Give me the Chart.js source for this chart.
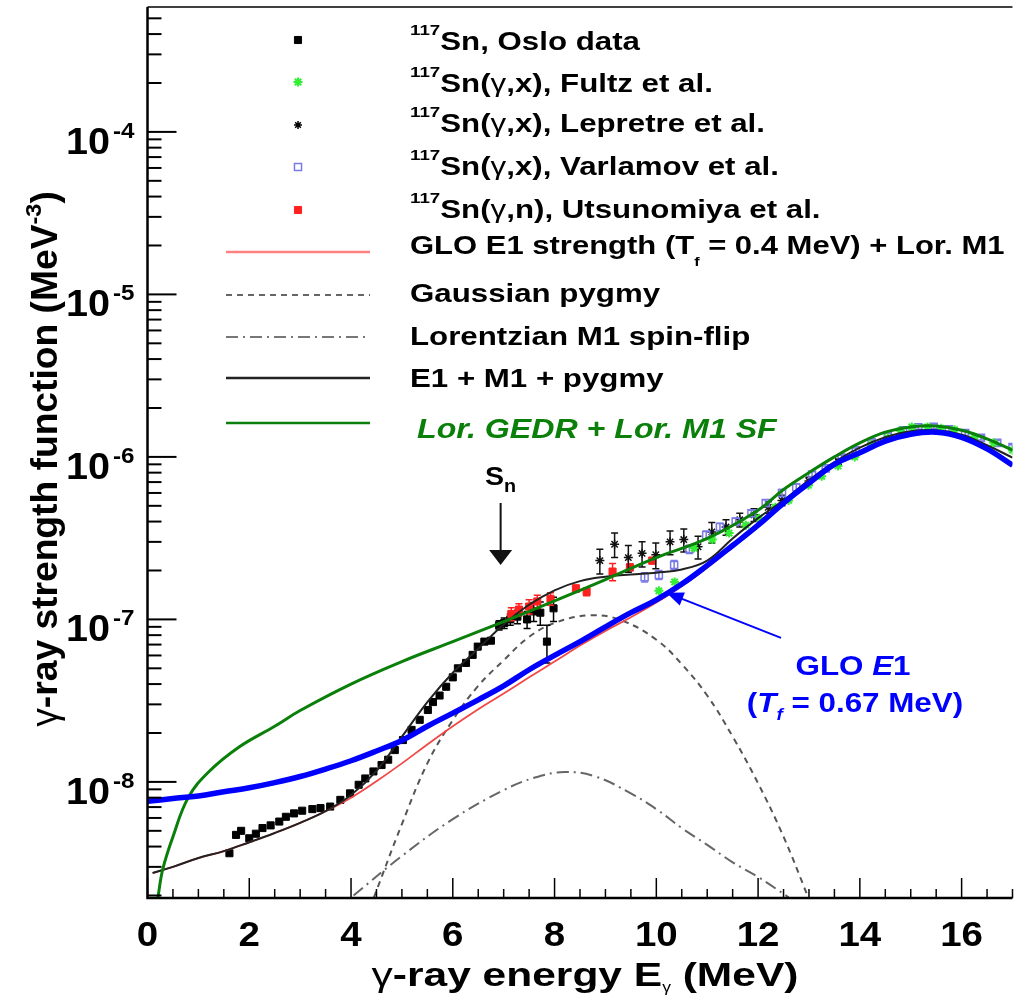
<!DOCTYPE html>
<html>
<head>
<meta charset="utf-8">
<script src="https://cdn.jsdelivr.net/npm/chart.js@4.4.0/dist/chart.umd.min.js"></script>
<style>
  html, body { margin: 0; padding: 0; background: #fff; }
  #wrap { width: 1019px; height: 998px; }
</style>
</head>
<body>
<div id="wrap"><canvas id="gsf" width="1019" height="998"></canvas></div>
<script>
// gamma-ray strength function of 117Sn, energies in MeV, strengths in MeV^-3

// Oslo data
const osloE = [1.61, 1.74, 1.84, 2.0, 2.13, 2.26, 2.42, 2.59, 2.72, 2.88,
  3.04, 3.24, 3.4, 3.59, 3.79, 3.98, 4.15, 4.28, 4.44, 4.6,
  4.73, 4.86, 5.02, 5.19, 5.35, 5.51, 5.61, 5.74, 5.87, 6.0,
  6.1, 6.26, 6.39, 6.49, 6.62, 6.75, 6.91, 7.01, 7.13, 7.27,
  7.46, 7.59, 7.72, 7.85, 7.98];
const osloS = [3.64e-9, 4.72e-9, 5.0e-9, 4.5e-9, 4.8e-9, 5.2e-9, 5.4e-9, 5.7e-9, 6.1e-9, 6.4e-9,
  6.65e-9, 6.8e-9, 6.9e-9, 7.05e-9, 7.75e-9, 8.5e-9, 9.6e-9, 1.05e-8, 1.16e-8, 1.27e-8,
  1.37e-8, 1.57e-8, 1.81e-8, 2.09e-8, 2.41e-8, 2.77e-8, 3.1e-8, 3.4e-8, 3.85e-8, 4.4e-8,
  5.0e-8, 5.4e-8, 6.05e-8, 6.8e-8, 7.3e-8, 7.4e-8, 9.2e-8, 9.5e-8, 1.0e-7, 1.04e-7,
  1.0e-7, 1.12e-7, 1.1e-7, 7.3e-8, 1.17e-7];
const osloErr = [0, 0, 0, 0, 0, 0, 0, 0, 0, 0,
  0, 0, 0, 0, 0, 0, 0, 0, 0, 0,
  0, 0, 0, 0, 0, 0, 0, 0, 0, 0,
  0, 0, 0, 0, 0, 0, 0.6e-8, 0.7e-8, 0.8e-8, 1.0e-8,
  1.2e-8, 1.5e-8, 1.8e-8, 1.9e-8, 2.0e-8];

// (gamma,x) Fultz et al.
const fultzE = [10.05, 10.36, 10.74, 11.1, 11.43, 11.76, 12.02, 12.34, 12.6, 12.99,
  13.25, 13.57, 13.9, 14.23, 14.55, 14.8, 15.02, 15.33, 15.6, 15.86, 16.25, 16.63, 17.0];
const fultzS = [1.5e-7, 1.7e-7, 2.75e-7, 3.1e-7, 3.4e-7, 3.8e-7, 4.2e-7, 4.9e-7, 5.4e-7, 6.7e-7,
  7.6e-7, 8.8e-7, 1.0e-6, 1.19e-6, 1.31e-6, 1.45e-6, 1.53e-6, 1.53e-6, 1.5e-6, 1.47e-6, 1.33e-6, 1.22e-6, 1.1e-6];

// (gamma,x) Lepretre et al.
const lepE = [8.89, 9.18, 9.45, 9.72, 9.99, 10.27, 10.54, 10.82, 11.09, 11.37, 11.64, 11.92, 12.2, 12.47, 13.0, 13.58];
const lepS = [2.3e-7, 2.9e-7, 2.4e-7, 2.55e-7, 2.5e-7, 3.0e-7, 3.1e-7, 2.8e-7, 3.45e-7, 3.7e-7, 4.1e-7, 4.4e-7, 4.9e-7, 5.4e-7, 7.1e-7, 9.3e-7];
const lepErr = [4.0e-8, 5.0e-8, 4.5e-8, 4.5e-8, 4.5e-8, 5.0e-8, 5.0e-8, 4.5e-8, 5.0e-8, 4.0e-8, 4.0e-8, 4.0e-8, 4.0e-8, 4.0e-8, 4.0e-8, 4.0e-8];

// (gamma,x) Varlamov et al.
const varE = [9.77, 10.05, 10.35, 10.65, 10.98, 11.25, 11.56, 11.87, 12.15, 12.47, 12.75, 13.06,
  13.33, 13.64, 13.92, 14.23, 14.55, 14.85, 15.15, 15.45, 15.75, 16.07, 16.38, 16.7, 17.0];
const varS = [1.82e-7, 1.88e-7, 2.16e-7, 2.7e-7, 3.3e-7, 3.7e-7, 4.0e-7, 4.5e-7, 5.2e-7, 6.0e-7, 6.5e-7, 7.8e-7,
  8.5e-7, 9.9e-7, 1.1e-6, 1.23e-6, 1.36e-6, 1.46e-6, 1.52e-6, 1.53e-6, 1.48e-6, 1.4e-6, 1.31e-6, 1.22e-6, 1.15e-6];
const varErr = [1.2e-8, 1.2e-8, 1.4e-8, 1.6e-8, 2.0e-8, 2.0e-8, 2.0e-8, 2.0e-8, 2.5e-8, 3.0e-8, 3.0e-8, 3.0e-8,
  3.0e-8, 3.5e-8, 3.5e-8, 4.0e-8, 4.0e-8, 4.0e-8, 4.0e-8, 4.0e-8, 4.0e-8, 4.0e-8, 4.0e-8, 4.0e-8, 4.0e-8];

// (gamma,n) Utsunomiya et al.
const utsE = [7.15, 7.3, 7.5, 7.66, 7.92, 8.42, 8.63, 9.14, 9.48, 9.92];
const utsS = [1.08e-7, 1.15e-7, 1.2e-7, 1.29e-7, 1.34e-7, 1.55e-7, 1.48e-7, 1.97e-7, 2.09e-7, 2.3e-7];
const utsErr = [1.0e-8, 1.0e-8, 1.2e-8, 1.2e-8, 1.2e-8, 0.8e-8, 0.8e-8, 2.4e-8, 1.0e-8, 1.0e-8];

// model curves
const fitE = [0.1, 0.5, 1, 1.5, 2, 2.5, 3, 3.5, 4, 4.5, 5, 5.5, 6, 6.5, 7, 7.5, 8, 8.5, 9, 9.5,
  10, 10.5, 11, 11.5, 12, 12.5, 13, 13.5, 14, 14.5, 15, 15.5, 16, 16.5, 17];
const gloM1S = [2.75e-9, 3.0e-9, 3.4e-9, 3.75e-9, 4.25e-9, 4.85e-9, 5.6e-9, 6.6e-9, 8.0e-9, 1.01e-8,
  1.3e-8, 1.7e-8, 2.2e-8, 2.8e-8, 3.5e-8, 4.4e-8, 5.5e-8, 6.9e-8, 8.5e-8, 1.03e-7,
  1.27e-7, 1.6e-7, 2.08e-7, 2.78e-7, 3.72e-7, 5.1e-7, 6.8e-7, 8.8e-7, 1.05e-6, 1.24e-6,
  1.37e-6, 1.41e-6, 1.31e-6, 1.11e-6, 8.8e-7];
const totalS = [2.75e-9, 3.0e-9, 3.4e-9, 3.75e-9, 4.25e-9, 4.85e-9, 5.6e-9, 6.6e-9, 8.3e-9, 1.17e-8,
  1.9e-8, 3.1e-8, 4.7e-8, 6.6e-8, 9.3e-8, 1.23e-7, 1.51e-7, 1.72e-7, 1.83e-7, 1.89e-7,
  1.94e-7, 2.03e-7, 2.3e-7, 3.15e-7, 4.2e-7, 5.4e-7, 7.2e-7, 9.3e-7, 1.14e-6, 1.32e-6,
  1.44e-6, 1.46e-6, 1.37e-6, 1.18e-6, 9.9e-7];

const gloE = [0, 0.5, 1, 1.5, 2, 2.5, 3, 3.5, 4, 4.5, 5, 5.5, 6, 6.5, 7, 7.5, 8, 8.5, 9, 9.5,
  10, 10.5, 11, 11.5, 12, 12.5, 13, 13.5, 14, 14.5, 15, 15.5, 16, 16.5, 17];
const gloS = [7.6e-9, 7.9e-9, 8.2e-9, 8.7e-9, 9.2e-9, 9.9e-9, 1.08e-8, 1.2e-8, 1.35e-8, 1.55e-8,
  1.8e-8, 2.2e-8, 2.65e-8, 3.2e-8, 3.9e-8, 4.9e-8, 6.0e-8, 7.3e-8, 9.0e-8, 1.1e-7,
  1.32e-7, 1.65e-7, 2.15e-7, 2.85e-7, 3.8e-7, 5.2e-7, 6.9e-7, 9.0e-7, 1.06e-6, 1.25e-6,
  1.38e-6, 1.42e-6, 1.32e-6, 1.12e-6, 8.9e-7];

const lorE = [0.2, 0.3, 0.5, 0.8, 1.2, 1.8, 2.5, 3, 4, 5, 6, 7, 8, 9, 10, 11, 12, 12.5, 13, 13.5,
  14, 14.5, 15, 15.5, 16, 16.5, 17];
const lorS = [1.9e-9, 2.9e-9, 4.6e-9, 8.0e-9, 1.15e-8, 1.64e-8, 2.2e-8, 2.75e-8, 4.0e-8, 5.5e-8,
  7.3e-8, 9.7e-8, 1.3e-7, 1.76e-7, 2.4e-7, 3.15e-7, 4.7e-7, 6.3e-7, 8.0e-7, 1.0e-6,
  1.22e-6, 1.42e-6, 1.53e-6, 1.55e-6, 1.46e-6, 1.29e-6, 1.1e-6];

const pygmyE = [4.45, 5, 5.5, 6, 6.5, 7, 7.5, 8, 8.7, 9.3, 10, 10.5, 11, 11.5, 12, 12.5, 13];
const pygmyS = [1.95e-9, 5.5e-9, 1.3e-8, 2.4e-8, 3.9e-8, 5.6e-8, 7.8e-8, 9.5e-8, 1.06e-7, 9.9e-8,
  7.5e-8, 5.3e-8, 3.4e-8, 1.9e-8, 9.8e-9, 4.6e-9, 1.9e-9];

const sfE = [4.05, 5, 6, 7, 7.6, 8.2, 8.8, 9.5, 10, 10.5, 11, 11.5, 12, 12.6];
const sfS = [2.0e-9, 3.5e-9, 5.9e-9, 8.9e-9, 1.06e-8, 1.15e-8, 1.08e-8, 8.5e-9, 6.8e-9, 5.2e-9,
  4.1e-9, 3.2e-9, 2.6e-9, 1.95e-9];

// axis ticks
const xTickLabels = [0, 2, 4, 6, 8, 10, 12, 14, 16];
const yDecades = [-8, -7, -6, -5, -4];

const sn = 6.94; // neutron separation energy

const reactions = ['', '(\u03b3,x)', '(\u03b3,x)', '(\u03b3,x)', '(\u03b3,n)'];
const sources = [', Oslo data', ', Fultz et al.', ', Lepretre et al.', ', Varlamov et al.', ', Utsunomiya et al.'];

const FONT = '"Liberation Sans", Arial, Helvetica, sans-serif';
const RED = '#f04848', GREEN = '#0a800a', BLUE = '#0000ff';

const pts = (xs, ys) => xs.map((x, i) => ({ x: x, y: ys[i] }));

function font(r) {
  return (r.italic ? 'italic ' : '') + (r.light ? '' : 'bold ') + r.size + 'px ' + FONT;
}

// draws a row of text pieces (super/subscripts) with a horizontal stretch
function drawRuns(ctx, runs, x, y, opt) {
  opt = opt || {};
  const sx = opt.sx || 1;
  let w = 0;
  runs.forEach(r => { ctx.font = font(r); w += ctx.measureText(r.t).width; });
  let cx = x;
  if (opt.align === 'center') cx = x - w * sx / 2;
  if (opt.align === 'right') cx = x - w * sx;
  ctx.textAlign = 'left';
  ctx.textBaseline = 'alphabetic';
  runs.forEach(r => {
    ctx.font = font(r);
    ctx.fillStyle = r.color || opt.color || '#000';
    ctx.save();
    ctx.translate(cx, y + (r.dy || 0));
    ctx.scale(sx, 1);
    ctx.fillText(r.t, 0, 0);
    ctx.restore();
    cx += ctx.measureText(r.t).width * sx;
  });
}

// splits a label so that gamma is set in a lighter face
function withGamma(text, size) {
  const out = [];
  text.split('\u03b3').forEach((part, i) => {
    if (i > 0) out.push({ t: '\u03b3', size: size, light: true });
    if (part) out.push({ t: part, size: size });
  });
  return out;
}

function marker(ctx, style, x, y, r, fill, stroke, bw) {
  ctx.save();
  ctx.fillStyle = fill;
  ctx.strokeStyle = stroke;
  ctx.lineWidth = bw;
  Chart.helpers.drawPoint(ctx, { pointStyle: style, radius: r, rotation: 0, borderWidth: bw }, x, y);
  ctx.restore();
}

const errorBars = {
  id: 'errorBars',
  beforeDatasetDraw(chart, args) {
    const ds = chart.data.datasets[args.index];
    if (!ds.errors) return;
    const { ctx, chartArea: a, scales: { x, y } } = chart;
    ctx.save();
    ctx.beginPath();
    ctx.rect(a.left, a.top, a.right - a.left, a.bottom - a.top);
    ctx.clip();
    ctx.strokeStyle = ds.errorColor;
    ctx.lineWidth = 1.5;
    ds.data.forEach((p, i) => {
      const e = ds.errors[i];
      if (!e) return;
      const px = x.getPixelForValue(p.x);
      const t = y.getPixelForValue(p.y + e);
      const b = y.getPixelForValue(p.y - e);
      ctx.beginPath();
      ctx.moveTo(px, t); ctx.lineTo(px, b);
      ctx.moveTo(px - 3.5, t); ctx.lineTo(px + 3.5, t);
      ctx.moveTo(px - 3.5, b); ctx.lineTo(px + 3.5, b);
      ctx.stroke();
    });
    ctx.restore();
  }
};

const decorations = {
  id: 'decorations',
  afterDraw(chart) {
    const { ctx, chartArea: a, scales: { x, y } } = chart;
    ctx.save();

    // frame
    ctx.strokeStyle = '#000';
    ctx.lineWidth = 1.5;
    ctx.beginPath();
    ctx.moveTo(a.left, a.top); ctx.lineTo(a.right, a.top);
    ctx.stroke();
    ctx.lineWidth = 2.5;
    ctx.beginPath();
    ctx.moveTo(a.left, a.top); ctx.lineTo(a.left, a.bottom); ctx.lineTo(a.right, a.bottom);
    ctx.stroke();

    // x ticks every 0.5 MeV, long ones every 2 MeV
    ctx.lineWidth = 1.5;
    for (let i = 0; i <= 34; i++) {
      const px = x.getPixelForValue(i / 2);
      const len = (i % 4 === 0) ? 20 : 9;
      ctx.beginPath(); ctx.moveTo(px, a.bottom); ctx.lineTo(px, a.bottom - len); ctx.stroke();
    }
    // log y ticks
    ctx.lineWidth = 2;
    for (let d = -9; d <= -4; d++) {
      for (let m = 1; m <= 9; m++) {
        const v = m * Math.pow(10, d);
        if (v < y.min || v > y.max) continue;
        const py = y.getPixelForValue(v);
        const len = m === 1 ? 29 : 14;
        ctx.beginPath(); ctx.moveTo(a.left, py); ctx.lineTo(a.left + len, py); ctx.stroke();
      }
    }

    // tick labels
    xTickLabels.forEach(e => {
      drawRuns(ctx, [{ t: String(e), size: 35 }], x.getPixelForValue(e), 946, { align: 'center', sx: 1.1 });
    });
    yDecades.forEach(d => {
      const py = y.getPixelForValue(Math.pow(10, d));
      drawRuns(ctx, [{ t: '10', size: 36 }], 110, py + 22, { align: 'right', sx: 1.1 });
      drawRuns(ctx, [{ t: '-' + (-d), size: 22 }], 113, py + 6, { sx: 1.1 });
    });

    // axis titles
    drawRuns(ctx, [
      { t: '\u03b3', size: 34, light: true },
      { t: '-ray energy E', size: 34 },
      { t: '\u03b3', size: 14, dy: 6, light: true },
      { t: ' (MeV)', size: 34 }
    ], 585, 986, { align: 'center', sx: 1.25 });

    ctx.save();
    ctx.translate(57, 459);
    ctx.rotate(-Math.PI / 2);
    ctx.scale(1.24, 1.2);
    drawRuns(ctx, [
      { t: '\u03b3', size: 30, light: true },
      { t: '-ray strength function (MeV', size: 30 },
      { t: '-3', size: 19, dy: -13 },
      { t: ')', size: 30 }
    ], 0, 0, { align: 'center' });
    ctx.restore();

    // legend: markers
    const mx = 298;
    marker(ctx, 'rect', mx, 40, 5, '#000', '#000', 1);
    marker(ctx, 'star', mx, 82, 4.5, '#33ee33', '#33ee33', 2);
    marker(ctx, 'star', mx, 125, 4, '#000', '#000', 1.5);
    marker(ctx, 'rect', mx, 167, 5, 'rgba(0,0,0,0)', '#7a7ae8', 1.5);
    marker(ctx, 'rect', mx, 210, 5, '#ff2020', '#ff2020', 1);

    // legend: line samples
    const lx0 = 226, lx1 = 370;
    const sample = (yy, color, w, dash) => {
      ctx.save();
      ctx.strokeStyle = color; ctx.lineWidth = w; ctx.setLineDash(dash);
      ctx.beginPath(); ctx.moveTo(lx0, yy); ctx.lineTo(lx1, yy); ctx.stroke();
      ctx.restore();
    };
    sample(252, '#ff8080', 2.5, []);
    sample(295, '#666', 2, [6, 5]);
    sample(337, '#777', 2, [12, 5, 2, 5]);
    sample(378, '#222', 2.5, []);
    sample(423, GREEN, 2.5, []);

    // legend: text
    const tx = 410;
    const base = [50, 92, 132, 175, 218];
    for (let i = 0; i < 5; i++) {
      const runs = [{ t: '117', size: 15, dy: -15 }, { t: 'Sn', size: 25 }]
        .concat(withGamma(reactions[i], 25), [{ t: sources[i], size: 25 }]);
      drawRuns(ctx, runs, tx, base[i], { sx: 1.25 });
    }
    drawRuns(ctx, [
      { t: 'GLO E1 strength (T', size: 25 },
      { t: 'f', size: 13, dy: 12 },
      { t: ' = 0.4 MeV) + Lor. M1', size: 25 }
    ], tx, 254, { sx: 1.24 });
    drawRuns(ctx, [{ t: 'Gaussian pygmy', size: 25 }], tx, 302, { sx: 1.25 });
    drawRuns(ctx, [{ t: 'Lorentzian M1 spin-flip', size: 25 }], tx, 345, { sx: 1.25 });
    drawRuns(ctx, [{ t: 'E1 + M1 + pygmy', size: 25 }], tx, 387, { sx: 1.25 });
    drawRuns(ctx, [{ t: 'Lor. GEDR + Lor. M1 SF', size: 27, italic: true }], 417, 438, { sx: 1.19, color: GREEN });

    // neutron separation energy marker
    const snx = x.getPixelForValue(sn);
    drawRuns(ctx, [{ t: 'S', size: 26 }, { t: 'n', size: 18, dy: 7 }], snx, 485, { align: 'center', sx: 1.1 });
    ctx.strokeStyle = '#111';
    ctx.fillStyle = '#111';
    ctx.lineWidth = 2;
    ctx.beginPath(); ctx.moveTo(snx, 503); ctx.lineTo(snx, 552); ctx.stroke();
    ctx.beginPath(); ctx.moveTo(snx - 11.5, 550); ctx.lineTo(snx + 11.5, 550); ctx.lineTo(snx, 565); ctx.closePath(); ctx.fill();

    // pointer to the GLO curve
    const tipX = x.getPixelForValue(10.2), tipY = y.getPixelForValue(1.46e-7);
    const tailX = x.getPixelForValue(12.45), tailY = y.getPixelForValue(7.7e-8);
    const ang = Math.atan2(tipY - tailY, tipX - tailX);
    const c = Math.cos(ang), s = Math.sin(ang);
    ctx.strokeStyle = BLUE; ctx.fillStyle = BLUE; ctx.lineWidth = 2;
    ctx.beginPath(); ctx.moveTo(tailX, tailY);
    ctx.lineTo(tipX - 12 * c, tipY - 12 * s); ctx.stroke();
    ctx.beginPath();
    ctx.moveTo(tipX, tipY);
    ctx.lineTo(tipX - 17 * c + 7 * s, tipY - 17 * s - 7 * c);
    ctx.lineTo(tipX - 17 * c - 7 * s, tipY - 17 * s + 7 * c);
    ctx.closePath(); ctx.fill();

    drawRuns(ctx, [
      { t: 'GLO ', size: 28 }, { t: 'E', size: 28, italic: true }, { t: '1', size: 28 }
    ], 853, 675, { align: 'center', sx: 1.12, color: BLUE });
    drawRuns(ctx, [
      { t: '(', size: 28 }, { t: 'T', size: 28, italic: true },
      { t: 'f', size: 17, italic: true, dy: 8 },
      { t: ' = 0.67 MeV)', size: 28 }
    ], 855, 712, { align: 'center', sx: 1.12, color: BLUE });

    ctx.restore();
  }
};

const curve = (label, xs, ys, color, width, dash, order) => ({
  label, data: pts(xs, ys), borderColor: color, backgroundColor: color,
  borderWidth: width, borderDash: dash, pointRadius: 0, showLine: true,
  fill: false, tension: 0.4, order
});

const points = (label, xs, ys, style, r, fill, stroke, bw, order, errs) => ({
  label, data: pts(xs, ys), showLine: false, pointStyle: style, pointRadius: r,
  backgroundColor: fill, borderColor: stroke, pointBorderWidth: bw, borderWidth: bw,
  errors: errs, errorColor: stroke, order
});

new Chart(document.getElementById('gsf'), {
  type: 'line',
  data: {
    datasets: [
      curve('GLO E1 (Tf = 0.67 MeV)', gloE, gloS, BLUE, 5.5, [], 0),
      curve('Lor. GEDR + Lor. M1 SF', lorE, lorS, GREEN, 3, [], 1),
      curve('E1 + M1 + pygmy', fitE, totalS, '#222', 2, [], 2),
      curve('GLO E1 strength (Tf = 0.4 MeV) + Lor. M1', fitE, gloM1S, RED, 1.8, [], 3),
      points('Fultz et al.', fultzE, fultzS, 'star', 4.5, '#33ee33', '#33ee33', 2, 4, null),
      points('Varlamov et al.', varE, varS, 'rect', 5, 'rgba(0,0,0,0)', '#7a7ae8', 1.5, 5, varErr),
      points('Lepretre et al.', lepE, lepS, 'star', 4.5, '#000', '#111', 1.5, 6, lepErr),
      points('Utsunomiya et al.', utsE, utsS, 'rect', 5, '#ff2020', '#ff2020', 1, 7, utsErr),
      points('Oslo data', osloE, osloS, 'rect', 5, '#000', '#000', 1, 8, osloErr),
      curve('Gaussian pygmy', pygmyE, pygmyS, '#555', 2, [6, 5], 9),
      curve('Lorentzian M1 spin-flip', sfE, sfS, '#666', 2, [12, 5, 2, 5], 10)
    ]
  },
  options: {
    responsive: false,
    animation: false,
    devicePixelRatio: 1,
    layout: { padding: { left: 147.5, top: 7, right: 0, bottom: 100 } },
    scales: {
      x: { type: 'linear', min: 0, max: 17, display: false },
      y: { type: 'logarithmic', min: 1.93e-9, max: 5.87e-4, display: false }
    },
    plugins: {
      legend: { display: false },
      tooltip: { enabled: false }
    }
  },
  plugins: [errorBars, decorations]
});
</script>
</body>
</html>
